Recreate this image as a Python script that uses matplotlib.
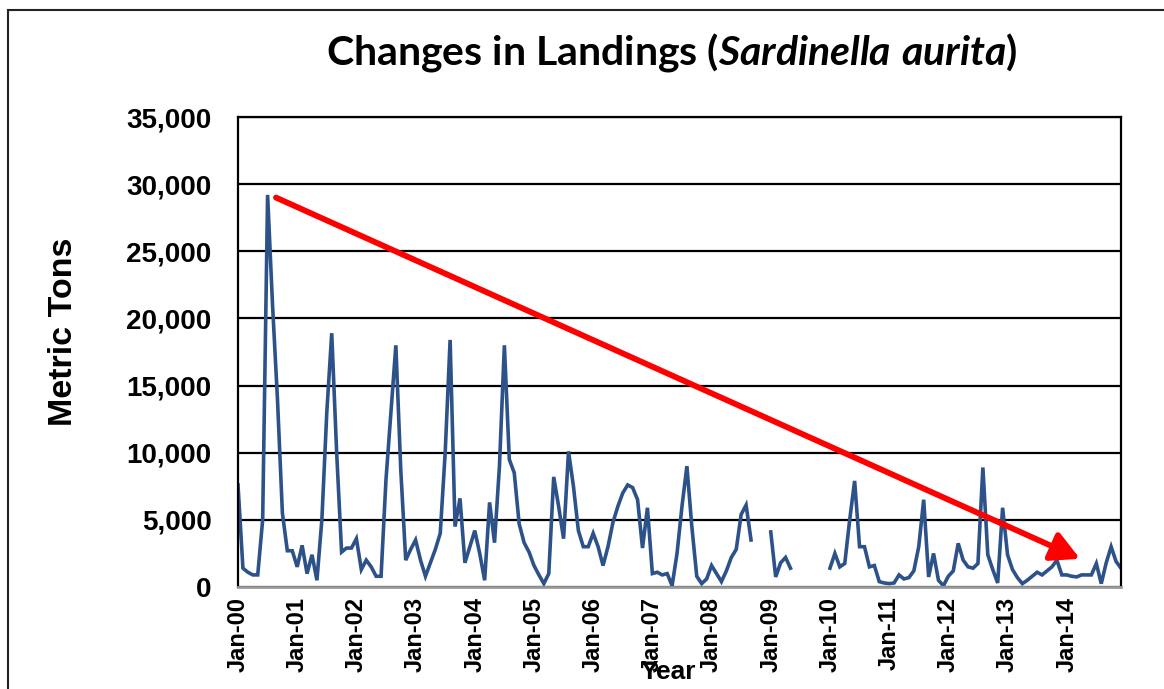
import numpy as np
import matplotlib
matplotlib.use("Agg")
import matplotlib.pyplot as plt
from matplotlib.patches import Rectangle

# ============================== data (metric tons) ==============================

nan = np.nan

landings_2000 = [7600, 1400, 1100, 900, 900, 5000, 29200, 21000, 14000, 5500, 2700, 2700]
landings_2001 = [1500, 3100, 1000, 2400, 500, 5000, 13000, 18900, 10000, 2600, 2900, 2900]
landings_2002 = [3600, 1300, 2000, 1500, 800, 800, 8000, 13000, 18000, 8700, 2000, 2800]
landings_2003 = [3500, 2000, 800, 1800, 2800, 4000, 10000, 18400, 4500, 6600, 1800, 3000]
landings_2004 = [4200, 2500, 500, 6300, 3300, 9000, 18000, 9500, 8500, 4700, 3300, 2600]
landings_2005 = [1600, 900, 250, 1000, 8200, 6000, 3600, 10100, 7500, 4200, 3000, 3000]
landings_2006 = [4000, 3000, 1600, 3000, 4800, 6000, 7000, 7600, 7400, 6500, 2900, 5900]
landings_2007 = [1000, 1100, 900, 1000, 100, 2500, 6000, 9000, 4500, 800, 250, 600]
landings_2008 = [1600, 1000, 400, 1200, 2200, 2800, 5400, 6100, 3500, nan, nan, nan]
landings_2009 = [4100, 750, 1800, 2200, 1400, nan, nan, nan, nan, nan, nan, nan]
landings_2010 = [1400, 2500, 1500, 1750, 5000, 7900, 3000, 3000, 1500, 1600, 400, 300]
landings_2011 = [250, 300, 900, 600, 700, 1200, 3000, 6500, 750, 2500, 500, 100]
landings_2012 = [800, 1200, 3250, 2000, 1500, 1400, 1750, 8900, 2400, 1300, 300, 5900]
landings_2013 = [2400, 1300, 700, 250, 500, 800, 1100, 900, 1200, 1500, 2000, 900]
landings_2014 = [900, 800, 750, 900, 900, 900, 1750, 250, 1800, 3000, 1900, 1400]

years = list(range(2000, 2015))
tick_labels = ["Jan-%02d" % (y % 100) for y in years]

# trend arrow (month index, tons)
arrow_start = (7.7, 29000)
arrow_end = (170.7, 2100)

# ================================== plotting ===================================

landings = np.array(landings_2000 + landings_2001 + landings_2002 + landings_2003
                    + landings_2004 + landings_2005 + landings_2006 + landings_2007
                    + landings_2008 + landings_2009 + landings_2010 + landings_2011
                    + landings_2012 + landings_2013 + landings_2014, dtype=float)
months = np.arange(len(landings))

W, H = 1164, 689
fig = plt.figure(figsize=(W / 100, H / 100), dpi=100)
fig.patch.set_facecolor('white')

# chart area border (runs off the right and bottom edges)
fig.patches.append(Rectangle((8 / W, -0.1), 1.2, 1 - 10 / H + 0.1,
                             transform=fig.transFigure, fill=False,
                             edgecolor='#222222', linewidth=1.5))

ax = fig.add_axes([238 / W, 1 - 587 / H, (1121 - 238) / W, (587 - 117) / H])

ax.plot(months, landings, color='#2c5289', linewidth=2.6, solid_joinstyle='miter')

ax.annotate('', xy=arrow_end, xytext=arrow_start,
            arrowprops=dict(arrowstyle='-|>,head_length=0.85,head_width=0.45',
                            mutation_scale=20, color='#ff0000', linewidth=4.2,
                            shrinkA=0, shrinkB=0))

ax.set_xlim(0, len(landings) - 1)
ax.set_ylim(0, 35000)

tick_font = dict(fontfamily='Liberation Sans', fontweight='bold')
ax.set_yticks(np.arange(0, 35001, 5000))
ax.set_yticklabels(['{:,}'.format(v) for v in range(0, 35001, 5000)],
                   fontsize=20, **tick_font)
ax.set_xticks(np.arange(0, len(landings), 12))
ax.set_xticklabels(tick_labels, rotation=90, fontsize=17, **tick_font)
ax.tick_params(axis='both', length=0)
ax.tick_params(axis='y', pad=19)
ax.tick_params(axis='x', pad=7)

ax.grid(axis='y', color='black', linewidth=1.6)
ax.set_axisbelow(True)
for side in ('left', 'right', 'top'):
    ax.spines[side].set_color('black')
    ax.spines[side].set_linewidth(1.6)
ax.spines['bottom'].set_color('#9a9a9a')
ax.spines['bottom'].set_linewidth(2)

plt.rcParams['mathtext.fontset'] = 'custom'
plt.rcParams['mathtext.rm'] = 'Lato:bold'
plt.rcParams['mathtext.it'] = 'Lato:italic:bold'
fig.text(672 / W, 1 - 53 / H, r'Changes in Landings ($\mathit{Sardinella\ aurita}$)',
         fontfamily='Lato', fontweight='bold', fontsize=29.5, ha='center', va='center')

fig.text(64 / W, 1 - 332 / H, 'Metric Tons', rotation=90, fontsize=24.5,
         ha='center', va='center', **tick_font)
# the reference draws "Year" on top of the Jan-07 label, kept as is
fig.text(668 / W, 1 - 672 / H, 'Year', fontsize=19, ha='center', va='center',
         **tick_font)

fig.savefig('out.png', dpi=100)
